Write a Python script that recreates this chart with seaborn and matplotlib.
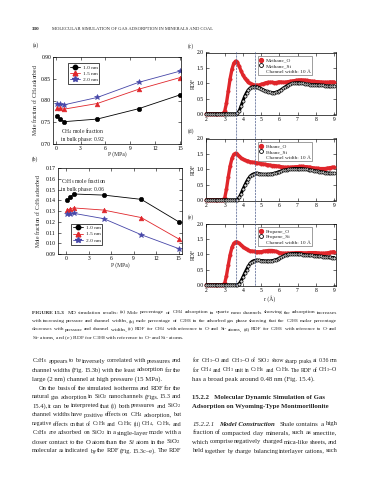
import numpy as np
import matplotlib
matplotlib.use('Agg')
import matplotlib.pyplot as plt
import seaborn as sns
from matplotlib.lines import Line2D
from matplotlib.patches import ConnectionPatch

# --- isotherms, panels (a) and (b) ---
pressure = [0.1, 0.5, 1, 5, 10, 15]
widths = ['1.0 nm', '1.5 nm', '2.0 nm']
ch4_10 = [0.764, 0.758, 0.751, 0.757, 0.781, 0.813]
ch4_15 = [0.782, 0.782, 0.780, 0.793, 0.826, 0.853]
ch4_20 = [0.792, 0.791, 0.790, 0.807, 0.842, 0.868]
c2h6_10 = [0.140, 0.143, 0.146, 0.145, 0.141, 0.120]
c2h6_15 = [0.131, 0.132, 0.133, 0.131, 0.124, 0.104]
c2h6_20 = [0.127, 0.127, 0.128, 0.123, 0.108, 0.095]

# --- RDF, panels (c)-(e), r in angstrom ---
r = np.round(np.arange(2.0, 9.01, 0.1), 1)
methane_o = [0, 0, 0, 0, 0, 0, 0, 0, 0, 0.01,
             0.08, 0.35, 0.75, 1.15, 1.45, 1.65, 1.72, 1.68, 1.55, 1.40,
             1.27, 1.17, 1.09, 1.03, 0.99, 0.96, 0.94, 0.93, 0.93, 0.94,
             0.96, 0.98, 1.00, 1.02, 1.03, 1.03, 1.03, 1.02, 1.02, 1.03,
             1.04, 1.04, 1.03, 1.03, 1.04, 1.05, 1.06, 1.07, 1.08, 1.09,
             1.10, 1.10, 1.11, 1.10, 1.10, 1.09, 1.08, 1.07, 1.06, 1.06,
             1.05, 1.05, 1.04, 1.04, 1.03, 1.03, 1.03, 1.03, 1.04, 1.04,
             1.04]
methane_si = [0, 0, 0, 0, 0, 0, 0, 0, 0, 0,
              0, 0, 0, 0, 0, 0, 0, 0.02, 0.10, 0.25,
              0.42, 0.57, 0.69, 0.78, 0.84, 0.87, 0.88, 0.88, 0.87, 0.85,
              0.82, 0.79, 0.76, 0.73, 0.71, 0.70, 0.69, 0.69, 0.70, 0.72,
              0.75, 0.79, 0.83, 0.87, 0.91, 0.94, 0.97, 0.99, 1.00, 1.01,
              1.01, 1.01, 1.00, 0.99, 0.98, 0.97, 0.96, 0.95, 0.95, 0.95,
              0.95, 0.94, 0.94, 0.93, 0.93, 0.92, 0.91, 0.91, 0.90, 0.90,
              0.91]
ethane_o = [0, 0, 0, 0, 0, 0, 0, 0, 0, 0.01,
            0.05, 0.35, 0.75, 1.10, 1.35, 1.48, 1.52, 1.48, 1.42, 1.37,
            1.33, 1.30, 1.28, 1.26, 1.24, 1.23, 1.22, 1.21, 1.20, 1.19,
            1.18, 1.17, 1.16, 1.15, 1.14, 1.13, 1.12, 1.12, 1.11, 1.10,
            1.09, 1.08, 1.07, 1.06, 1.06, 1.06, 1.06, 1.07, 1.07, 1.08,
            1.08, 1.09, 1.09, 1.09, 1.08, 1.08, 1.07, 1.06, 1.05, 1.04,
            1.03, 1.03, 1.02, 1.02, 1.02, 1.02, 1.03, 1.04, 1.05, 1.06,
            1.07]
ethane_si = [0, 0, 0, 0, 0, 0, 0, 0, 0, 0,
             0, 0, 0, 0, 0, 0, 0, 0.01, 0.08, 0.20,
             0.34, 0.47, 0.59, 0.69, 0.77, 0.82, 0.85, 0.86, 0.86, 0.85,
             0.84, 0.83, 0.83, 0.83, 0.83, 0.84, 0.85, 0.86, 0.88, 0.90,
             0.92, 0.94, 0.96, 0.97, 0.98, 0.99, 1.00, 1.01, 1.02, 1.02,
             1.02, 1.02, 1.02, 1.01, 1.00, 0.99, 0.98, 0.97, 0.96, 0.95,
             0.94, 0.93, 0.92, 0.91, 0.90, 0.89, 0.88, 0.87, 0.86, 0.86,
             0.86]
propane_o = [0, 0, 0, 0, 0, 0, 0, 0, 0, 0.01,
             0.05, 0.30, 0.65, 0.98, 1.22, 1.35, 1.40, 1.39, 1.35, 1.30,
             1.25, 1.20, 1.16, 1.13, 1.11, 1.10, 1.09, 1.08, 1.08, 1.08,
             1.08, 1.09, 1.10, 1.11, 1.12, 1.12, 1.12, 1.11, 1.09, 1.07,
             1.05, 1.04, 1.03, 1.03, 1.03, 1.03, 1.03, 1.04, 1.04, 1.05,
             1.05, 1.05, 1.05, 1.04, 1.04, 1.04, 1.05, 1.05, 1.05, 1.05,
             1.05, 1.04, 1.03, 1.03, 1.03, 1.03, 1.04, 1.05, 1.06, 1.07,
             1.08]
propane_si = [0, 0, 0, 0, 0, 0, 0, 0, 0, 0,
              0, 0, 0, 0, 0, 0, 0, 0, 0.04, 0.13,
              0.25, 0.38, 0.50, 0.61, 0.70, 0.76, 0.79, 0.80, 0.80, 0.80,
              0.79, 0.79, 0.78, 0.78, 0.78, 0.78, 0.79, 0.80, 0.82, 0.84,
              0.87, 0.90, 0.93, 0.96, 0.98, 1.00, 1.01, 1.02, 1.02, 1.02,
              1.02, 1.01, 1.00, 0.99, 0.98, 0.97, 0.97, 0.96, 0.96, 0.95,
              0.95, 0.94, 0.93, 0.93, 0.92, 0.92, 0.91, 0.90, 0.90, 0.89,
              0.89]
peak_r = [3.66, 4.70]

sns.set_style('ticks')
plt.rcParams['font.family'] = ['Liberation Serif', 'DejaVu Serif']
plt.rcParams['mathtext.fontset'] = 'custom'
plt.rcParams['mathtext.rm'] = 'Liberation Serif'
plt.rcParams['mathtext.it'] = 'Liberation Serif:italic'
plt.rcParams['mathtext.bf'] = 'Liberation Serif:bold'

W, H = 370, 480
fig = plt.figure(figsize=(W / 100, H / 100), dpi=100)
fig.patch.set_facecolor('white')
renderer = fig.canvas.get_renderer()


def rect(left, top, right, bottom):
    return [left / W, 1 - bottom / H, (right - left) / W, (bottom - top) / H]


def fx(x):
    return x / W


def fy(y):
    return 1 - y / H


TICK = 4.1
RED = '#e0262b'
BLUE = '#4646a8'


def style_axes(ax):
    for s in ax.spines.values():
        s.set_linewidth(0.5)
        s.set_color('black')
    ax.tick_params(direction='in', top=True, right=True, length=2, width=0.4,
                   labelsize=TICK, pad=1.5, colors='black')
    ax.set_facecolor('white')


# ---------- panels (a), (b) ----------
line_colors = ['black', RED, BLUE]
line_markers = ['o', '^', '*']
marker_sizes = [3.2, 3.4, 4.4]


def isotherm(ax, series):
    handles = []
    for vals, col, mk, ms, lab in zip(series, line_colors, line_markers, marker_sizes, widths):
        sns.lineplot(x=pressure, y=vals, ax=ax, color=col, marker=mk, markersize=ms,
                     markeredgecolor=col, markeredgewidth=0.4, linewidth=0.6, legend=False)
        handles.append(Line2D([], [], color=col, marker=mk, markersize=ms,
                              markeredgecolor=col, linewidth=0.6, label=lab))
    return handles


def iso_legend(ax, handles, anchor):
    leg = ax.legend(handles=handles, loc='upper left', bbox_to_anchor=anchor, fontsize=3.9,
                    frameon=True, fancybox=False, edgecolor='black', framealpha=1,
                    handlelength=2.0, handletextpad=0.4, labelspacing=0.25,
                    borderpad=0.35, borderaxespad=0)
    leg.get_frame().set_linewidth(0.5)


ax_a = fig.add_axes(rect(53.3, 57.3, 181, 143.7))
h = isotherm(ax_a, [ch4_10, ch4_15, ch4_20])
ax_a.set_xlim(-0.3, 15.12)
ax_a.set_ylim(0.70, 0.90)
ax_a.set_xticks([0, 3, 6, 9, 12, 15])
ax_a.set_yticks([0.70, 0.75, 0.80, 0.85, 0.90])
ax_a.set_yticklabels(['0.70', '0.75', '0.80', '0.85', '0.90'])
style_axes(ax_a)
ax_a.set_xlabel('P (MPa)', fontsize=TICK)
ax_a.set_ylabel('Mole fraction of CH$_4$ adsorbed', fontsize=TICK)
ax_a.xaxis.label.set_va('center')
ax_a.yaxis.label.set_va('center')
ax_a.xaxis.set_label_coords(0.5, -0.12)
ax_a.yaxis.set_label_coords(-0.142, 0.5)
iso_legend(ax_a, h, (0.113, 0.931))
ax_a.text(0.06, 0.20, 'CH$_4$ mole fraction\nin bulk phase: 0.92', transform=ax_a.transAxes,
          fontsize=TICK, va='top', ha='left', linespacing=1.15)

ax_b = fig.add_axes(rect(57.6, 168.3, 181.7, 254))
h = isotherm(ax_b, [c2h6_10, c2h6_15, c2h6_20])
ax_b.set_xlim(-1.13, 15.38)
ax_b.set_ylim(0.09, 0.17)
ax_b.set_xticks([0, 3, 6, 9, 12, 15])
yt = [0.09, 0.10, 0.11, 0.12, 0.13, 0.14, 0.15, 0.16, 0.17]
ax_b.set_yticks(yt)
ax_b.set_yticklabels(['%.2f' % v for v in yt])
style_axes(ax_b)
ax_b.set_xlabel('P (MPa)', fontsize=TICK)
ax_b.set_ylabel('Mole fraction of C$_2$H$_6$ adsorbed', fontsize=TICK)
ax_b.xaxis.label.set_va('center')
ax_b.yaxis.label.set_va('center')
ax_b.xaxis.set_label_coords(0.503, -0.128)
ax_b.yaxis.set_label_coords(-0.156, 0.5)
iso_legend(ax_b, h, (0.106, 0.354))
ax_b.text(0.03, 0.91, 'C$_2$H$_6$ mole fraction\nin bulk phase: 0.06', transform=ax_b.transAxes,
          fontsize=TICK, va='top', ha='left', linespacing=1.15)

# ---------- panels (c)-(e) ----------
rdf_sets = [(methane_o, methane_si, 'Methane'),
            (ethane_o, ethane_si, 'Ethane'),
            (propane_o, propane_si, 'Propane')]
tops = [52.5, 138.5, 223.5]
rdf_axes = []
for (o_vals, si_vals, name), top in zip(rdf_sets, tops):
    ax = fig.add_axes(rect(205.5, top, 335.5, top + 62))
    sns.lineplot(x=r, y=o_vals, ax=ax, color=RED, linewidth=2.4, legend=False,
                 clip_on=False, zorder=3)
    sns.scatterplot(x=r, y=o_vals, ax=ax, color=RED, edgecolor=RED, s=6,
                    linewidth=0.3, legend=False, clip_on=False, zorder=3)
    sns.lineplot(x=r, y=si_vals, ax=ax, color='black', linewidth=2.2, legend=False,
                 clip_on=False, zorder=4)
    sns.scatterplot(x=r, y=si_vals, ax=ax, color='#dddddd', edgecolor='black', s=5,
                    linewidth=0.5, legend=False, clip_on=False, zorder=4)
    ax.set_xlim(1.95, 9.08)
    ax.set_ylim(-0.02, 2.0)
    ax.set_xticks(range(2, 10))
    ax.set_yticks([0, 0.5, 1.0, 1.5, 2.0])
    ax.set_yticklabels(['0.0', '0.5', '1.0', '1.5', '2.0'])
    style_axes(ax)
    ax.set_ylabel('RDF', fontsize=TICK)
    ax.yaxis.label.set_va('center')
    ax.yaxis.set_label_coords(-0.095, 0.5)
    handles = [Line2D([], [], marker='o', linestyle='none', color=RED, markersize=2.8,
                      label=name + '_O'),
               Line2D([], [], marker='o', linestyle='none', markerfacecolor='white',
                      markeredgecolor='black', markeredgewidth=0.6, markersize=2.8,
                      label=name + '_Si'),
               Line2D([], [], linestyle='none', label='Channel width: 10 Å')]
    leg = ax.legend(handles=handles, loc='upper left', bbox_to_anchor=(0.40, 0.94),
                    fontsize=3.9, frameon=True, fancybox=False, edgecolor='#555555',
                    framealpha=1, handlelength=0.8, handletextpad=0.4,
                    labelspacing=0.15, borderpad=0.3, borderaxespad=0)
    leg.get_frame().set_linewidth(0.4)
    leg.set_zorder(6)
    rdf_axes.append(ax)

ax_c, ax_d, ax_e = rdf_axes
ax_e.set_xlabel('r (Å)', fontsize=TICK)
ax_e.xaxis.label.set_va('center')
ax_e.xaxis.set_label_coords(0.496, -0.215)

for rp in peak_r:
    con = ConnectionPatch(xyA=(rp, 2.0), coordsA=ax_c.transData,
                          xyB=(rp, -0.02), coordsB=ax_e.transData,
                          color='#4a5a8a', linewidth=0.5, linestyle=(0, (2.5, 2)),
                          zorder=8)
    fig.add_artist(con)

# ---------- page text ----------
for lab, x, y in [('(a)', 33, 45), ('(b)', 32, 159), ('(c)', 188, 46),
                  ('(d)', 188, 131), ('(e)', 188, 217)]:
    fig.text(fx(x), fy(y), lab, fontsize=4, va='center', ha='left')

fig.text(fx(32), fy(29), '330', fontsize=3.8, fontweight='bold', va='center')
fig.text(fx(52), fy(29), 'MOLECULAR SIMULATION OF GAS ADSORPTION IN MINERALS AND COAL',
         fontsize=3.3, va='center')


def put_line(text, x0, x1, y, size, justify=True, **kw):
    words = text.split(' ')
    if not justify or len(words) == 1:
        fig.text(fx(x0), fy(y), text, fontsize=size, va='center', ha='left', **kw)
        return
    arts = [fig.text(fx(x0), fy(y), w, fontsize=size, va='center', ha='left', **kw)
            for w in words]
    ws = [a.get_window_extent(renderer).width for a in arts]
    gap = (x1 - x0 - sum(ws)) / (len(words) - 1)
    if gap < 1.0:
        # too long for the column: shrink this line a little
        k = (x1 - x0 - (len(words) - 1) * 1.0) / sum(ws)
        for a in arts:
            a.set_fontsize(size * k)
        ws = [a.get_window_extent(renderer).width for a in arts]
        gap = (x1 - x0 - sum(ws)) / (len(words) - 1)
    x = x0
    for a, wd in zip(arts, ws):
        a.set_x(fx(x))
        x += wd + gap


def prefix(text, x, y, size, **kw):
    t = fig.text(fx(x), fy(y), text, fontsize=size, va='center', ha='left', **kw)
    return x + t.get_window_extent(renderer).width


# caption
CAP = 3.95
cap_y = [312.5, 321, 329.5, 338]
x_after = prefix('FIGURE 15.3', 32, cap_y[0], CAP, fontweight='bold')
put_line('MD simulation results: (a) Mole percentage of CH$_4$ adsorption in quartz nano '
         'channels showing the adsorption increases', x_after + 4, 337, cap_y[0], CAP)
put_line('with increasing pressure and channel widths, (b) mole percentage of C$_2$H$_6$ in '
         'the adsorbed gas phase showing that the C$_2$H$_6$ molar percentage',
         32, 337, cap_y[1], CAP)
put_line('decreases with pressure and channel widths, (c) RDF for CH$_4$ with reference to '
         'O- and Si- atoms, (d) RDF for C$_2$H$_6$ with reference to O- and',
         32, 337, cap_y[2], CAP)
put_line('Si- atoms, and (e) RDF for C$_3$H$_8$ with reference to O- and Si- atoms.',
         32, 337, cap_y[3], CAP, justify=False)

# body text, left column
BODY = 4.85
LS = 9.0
L0, L1 = 32, 181
left_lines = [
    ('C$_2$H$_6$ appears to be inversely correlated with pressures and', True),
    ('channel widths (Fig. 15.3b) with the least adsorption for the', True),
    ('large (2 nm) channel at high pressure (15 MPa).', False),
    ('On the basis of the simulated isotherms and RDF for the', True),
    ('natural gas adsorption in SiO$_2$ nanochannels (Figs. 15.3 and', True),
    ('15.4), it can be interpreted that (i) both pressures and SiO$_2$', True),
    ('channel widths have positive effects on CH$_4$ adsorption, but', True),
    ('negative effects on that of C$_2$H$_6$ and C$_3$H$_8$; (ii) CH$_4$, C$_2$H$_6$, and', True),
    ('C$_3$H$_8$ are adsorbed on SiO$_2$ in a single-layer mode with a', True),
    ('closer contact to the O atom than the $\\mathit{Si}$ atom in the SiO$_2$', True),
    ('molecular as indicated by the RDF (Fig. 15.3c–e). The RDF', True),
]
y = 361
for i, (txt, just) in enumerate(left_lines):
    x0 = L0 + 7 if i == 3 else L0
    put_line(txt, x0, L1, y, BODY, justify=just)
    y += LS

# body text, right column
R0, R1 = 192.5, 337.5
put_line('for CH$_3$–O and CH$_3$–O of SiO$_2$ show sharp peaks at 0.36 nm', R0, R1, 361, BODY)
put_line('for CH$_4$ and CH$_3$ unit in C$_2$H$_6$ and C$_3$H$_8$. The RDF of CH$_3$–O',
         R0, R1, 361 + LS, BODY)
put_line('has a broad peak around 0.48 nm (Fig. 15.4).', R0, R1, 361 + 2 * LS, BODY,
         justify=False)
put_line('15.2.2   Molecular Dynamic Simulation of Gas', R0, R1, 397.5, BODY,
         justify=False, fontweight='bold')
put_line('Adsorption on Wyoming-Type Montmorillonite', R0, R1, 406.5, BODY,
         justify=False, fontweight='bold')
yy = 451 - 3 * LS
xa = prefix('15.2.2.1', R0, yy, BODY, style='italic')
xa = prefix('Model Construction', xa + 4, yy, BODY, style='italic', fontweight='bold')
put_line('Shale contains a high', xa + 5, R1, yy, BODY)
put_line('fraction of compacted clay minerals, such as smectite,', R0, R1, yy + LS, BODY)
put_line('which comprise negatively charged mica-like sheets, and', R0, R1, yy + 2 * LS, BODY)
put_line('held together by charge balancing interlayer cations, such', R0, R1, yy + 3 * LS, BODY)

fig.savefig('out.png', dpi=100, facecolor='white')
